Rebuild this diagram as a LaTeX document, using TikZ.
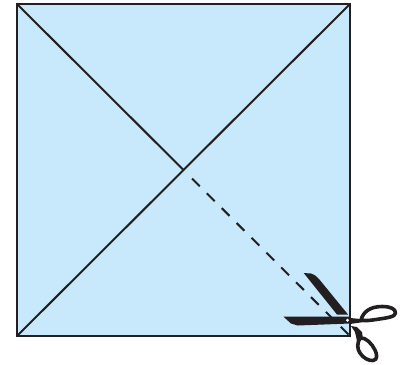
\documentclass[tikz,border=0pt]{standalone}
\usetikzlibrary{calc}
\definecolor{sheet blue}{HTML}{C7E9FB}
\definecolor{ink}{HTML}{231F20}

\begin{document}
\begin{tikzpicture}[
    x=0.25mm, y=-0.25mm,
    fold line/.style={color=ink, line width=0.5mm},
    cut line/.style={color=ink, line width=0.5mm, dash pattern=on 2.75mm off 2.5mm},
    blade/.style={fill=ink, draw=none},
    handle/.style={color=ink, line width=0.9mm, line join=round},
]
\useasboundingbox (0,0) rectangle (406,364);

% Corners of the sheet
\coordinate (tl) at (17,4);
\coordinate (tr) at (350,4);
\coordinate (br) at (350,336);
\coordinate (bl) at (17,336);
\coordinate (mid) at (183.5,170);

% Sheet
\fill[sheet blue] (tl) rectangle (br);

% Fold lines
\draw[fold line] (tl) -- (mid);
\draw[fold line] (tr) -- (bl);

% Cut line
\draw[cut line] (192,178.5) -- (br);

% Sheet outline
\draw[color=ink, line width=0.65mm] (tl) rectangle (br);

% Blades
\fill[blade] (303.7,273) -- (311,273.5) .. controls (315,275) and (317,276.5) .. (319,279)
    -- (348,314.5) -- (337,314.5) -- cycle;
\fill[blade] (283.3,316.5) -- (350,316.5) -- (350,323.5) -- (297.7,325.5) -- (291,323.5) -- cycle;

% Handles
\fill[blade] (350,318) -- (361,319) -- (364,322) -- (350,324) -- cycle;
\draw[handle] (361,320) .. controls (363,312) and (370,306.5) .. (382,306.5)
    .. controls (391,306.5) and (395.5,309) .. (395.5,313)
    .. controls (395.5,317) and (386,318) .. (376,319.5)
    .. controls (370,320.5) and (365,321) .. (361,320);
\fill[blade] (351,326) -- (357,327) -- (362,332) -- (363,339) -- (357,341) -- (355,332) -- cycle;
\draw[handle] (360,338) .. controls (357,343) and (357,349) .. (360,353)
    .. controls (363,358) and (369,361) .. (373,360.5)
    .. controls (378,360) and (377,354) .. (375,350)
    .. controls (372,344) and (366,337) .. (360,338);

% Pivot
\fill[white] (347.5,320.3) circle (1.6);

\end{tikzpicture}
\end{document}
